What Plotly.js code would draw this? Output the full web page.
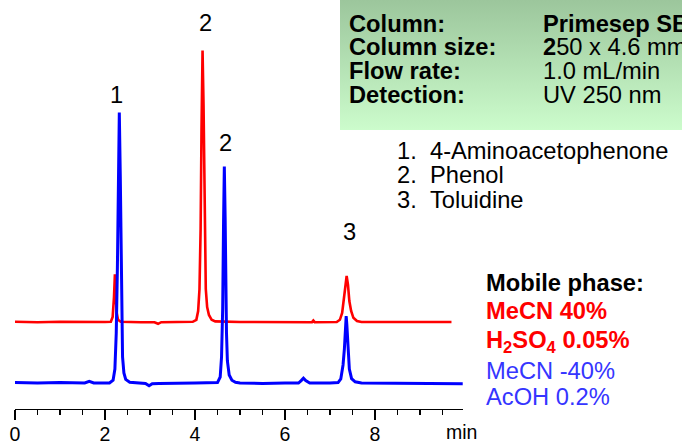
<!DOCTYPE html>
<html>
<head>
<meta charset="utf-8">
<script src="https://cdn.plot.ly/plotly-3.0.1.min.js"></script>
<style>html,body{margin:0;padding:0;background:#fff;}#chart{width:682px;height:447px;}</style>
</head>
<body>
<div id="chart"></div>
<script>
// ---- Data (time in min, detector signal in arbitrary units) ----
const blueTime = [0.00,0.50,1.00,1.55,1.65,1.75,2.10,2.18,2.22,2.25,2.275,2.295,2.318,2.34,2.355,2.37,2.39,2.42,2.46,2.55,2.70,2.90,2.98,3.05,3.20,3.60,4.00,4.50,4.56,4.59,4.615,4.635,4.652,4.67,4.685,4.70,4.72,4.76,4.82,4.90,5.00,5.50,6.00,6.30,6.36,6.41,6.46,6.55,7.00,7.18,7.24,7.29,7.32,7.345,7.36,7.375,7.40,7.43,7.48,7.56,7.70,8.50,9.00,9.50,9.95];
const blueSignal = [6.6,6.5,6.6,6.5,6.9,6.5,6.5,7.2,10,19,35,58,74.1,58,38,22,13,9,7.4,6.7,6.5,6.4,5.8,6.3,6.4,6.4,6.5,6.6,8,13,25,47,60.6,48,30,19,12,8.5,7.2,6.7,6.5,6.4,6.5,6.5,7.1,7.7,7.1,6.5,6.5,6.6,7.5,11,15,21,23.25,21,15,10,7.6,6.8,6.5,6.4,6.4,6.3,6.3];

const redTime = [0.00,0.50,1.00,1.50,2.00,2.13,2.17,2.20,2.22,2.24,2.26,2.29,2.35,2.80,3.10,3.18,3.25,3.60,3.95,4.03,4.07,4.10,4.125,4.145,4.168,4.19,4.205,4.22,4.24,4.27,4.31,4.37,4.45,5.00,6.00,6.60,6.63,6.66,7.15,7.22,7.27,7.31,7.34,7.37,7.40,7.43,7.47,7.52,7.60,7.70,8.50,9.00,9.70];
const redSignal = [21.8,21.7,21.8,21.7,21.75,21.8,23,28,33.7,28,24,22.3,21.8,21.7,21.7,21.3,21.7,21.75,21.8,22.3,24.5,30,45,70,89.6,76,56,40,30,25.5,23.5,22.3,21.9,21.75,21.7,21.7,22.1,21.7,21.75,22.3,24,27.5,31.5,33.25,31,27,24.5,22.8,22,21.75,21.75,21.7,21.75];

const tickValues = [0,2,4,6,8];
const tickLabels = ['0','2','4','6','8'];
const axisUnit = 'min';

const peakLabels = ['1','2','2','3'];
const conditionLabels = ['Column:','Column size:','Flow rate:','Detection:'];
const conditionValues = ['<b>Primesep SB</b>','<b>2</b>50 x 4.6 mm','1.0 mL/min','UV 250 nm'];
const compoundNumbers = ['1.','2.','3.'];
const compoundNames = ['4-Aminoacetophenone','Phenol','Toluidine'];
const mobileTitle = '<b>Mobile phase:</b>';
const mobileRed = ['<b>MeCN 40%</b>','<b>H<sub>2</sub>SO<sub>4</sub> 0.05%</b>'];
const mobileBlue = ['MeCN -40%','AcOH 0.2%'];

// ---- Layout helpers (pixel -> paper) ----
const W = 682, H = 447;
const px = v => v / W;
const py = v => 1 - v / H;
const FONT = 'Liberation Sans, Arial, sans-serif';
const FS = 23.7;

const traces = [
  {x:[340,682,682,340,340], y:[0,0,130,130,0], xaxis:'x2', yaxis:'y2', mode:'lines', line:{width:0},
   fill:'toself', fillcolor:'#b4e0b4',
   fillgradient:{type:'vertical', start:0, stop:130, colorscale:[[0,'#9cc69c'],[1,'#ccfccc']]},
   hoverinfo:'skip', showlegend:false},
  {x:redTime, y:redSignal, mode:'lines', line:{color:'#ff0000', width:2.6}, showlegend:false},
  {x:blueTime, y:blueSignal, mode:'lines', line:{color:'#0000ff', width:3}, showlegend:false}
];

const ann = [];
function addText(text, x, y, size, color, anchor){
  ann.push({text:text, xref:'paper', yref:'paper', x:px(x), y:py(y), xanchor:anchor||'center', yanchor:'middle',
            showarrow:false, font:{family:FONT, size:size, color:color||'#000'}, borderpad:0});
}
// peak numbers
const peakPos = [[116.7,95],[205.7,23.3],[225.7,143.3],[349.3,231.7]];
peakLabels.forEach((t,i)=>addText(t, peakPos[i][0], peakPos[i][1], FS));
// condition box
const condY = [23.8,47.4,71.0,94.6];
conditionLabels.forEach((t,i)=>addText('<b>'+t+'</b>', 348, condY[i], FS, '#000', 'left'));
conditionValues.forEach((t,i)=>addText(t, 541.5, condY[i], FS, '#000', 'left'));
// compounds
const compY = [151,175.5,200];
compoundNumbers.forEach((t,i)=>addText(t, 396, compY[i], FS, '#000', 'left'));
compoundNames.forEach((t,i)=>addText(t, 428.5, compY[i], FS, '#000', 'left'));
// mobile phase
addText(mobileTitle, 485, 282.7, FS, '#000', 'left');
addText(mobileRed[0], 485, 311.2, FS, '#ff0000', 'left');
addText(mobileRed[1], 485, 341.5, FS, '#ff0000', 'left');
addText(mobileBlue[0], 485, 370.5, FS, '#3535ff', 'left');
addText(mobileBlue[1], 485, 396.7, FS, '#3535ff', 'left');
// axis unit
addText(axisUnit, 462, 432, 19.5);

const layout = {
  width: W, height: H,
  margin:{l:0,r:0,t:0,b:0},
  paper_bgcolor:'#ffffff', plot_bgcolor:'rgba(0,0,0,0)',
  showlegend:false,
  xaxis:{domain:[15/W, 463/W], range:[0, 9.956], showgrid:false, zeroline:false,
         showline:true, linecolor:'#000', linewidth:1.3,
         ticks:'outside', ticklen:10, tickwidth:1.3, tickcolor:'#000',
         ticklabelstandoff:-3,
         tickvals:tickValues, ticktext:tickLabels,
         tickfont:{family:FONT, size:19.5, color:'#000'},
         minor:{dtick:0.5, tick0:0, ticks:'outside', ticklen:5, tickwidth:1.3, tickcolor:'#000', showgrid:false},
         fixedrange:true},
  yaxis:{domain:[38/H, 1], range:[0, 102.25], visible:false, fixedrange:true},
  xaxis2:{domain:[0,1], range:[0,W], visible:false, anchor:'y2', fixedrange:true},
  yaxis2:{domain:[0,1], range:[H,0], visible:false, anchor:'x2', fixedrange:true},
  annotations: ann
};

Plotly.newPlot('chart', traces, layout, {staticPlot:true, displayModeBar:false});
</script>
</body>
</html>
